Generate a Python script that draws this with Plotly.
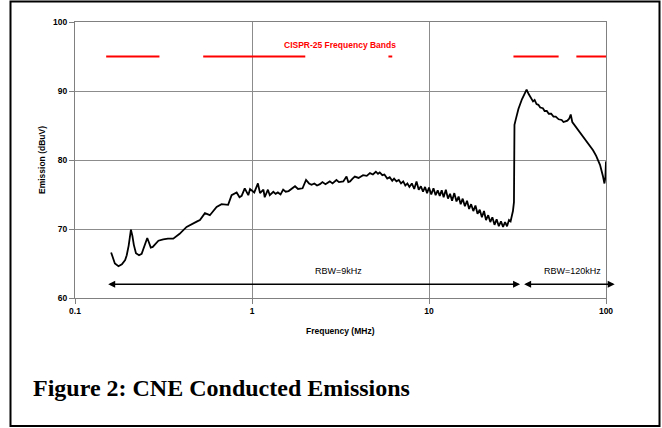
import math
import plotly.graph_objects as go

# ---- data ----
freq_mhz = [0.160, 0.168, 0.176, 0.184, 0.192, 0.196, 0.201, 0.207, 0.211, 0.215,
            0.221, 0.230, 0.238, 0.246, 0.251, 0.256, 0.262, 0.268, 0.275, 0.283,
            0.296, 0.315, 0.335, 0.359, 0.39, 0.427, 0.46, 0.49, 0.508, 0.542,
            0.578, 0.605, 0.631, 0.673, 0.733, 0.767, 0.80, 0.819, 0.85, 0.874,
            0.910, 0.953, 0.975, 0.996, 1.03, 1.08, 1.11, 1.16, 1.18, 1.23,
            1.26, 1.32, 1.36, 1.40, 1.45, 1.50, 1.55, 1.61, 1.68, 1.75,
            1.82, 1.93, 2.02, 2.10, 2.17, 2.25, 2.33, 2.42, 2.5, 2.6,
            2.75, 2.85, 3.0, 3.1, 3.28, 3.42, 3.5, 3.58, 3.7, 3.81,
            4.0, 4.24, 4.45, 4.64, 4.82, 5.01, 5.15, 5.27, 5.45, 5.6,
            5.81, 6.0, 6.2, 6.35, 6.55, 6.75, 6.95, 7.15, 7.35, 7.55,
            7.75, 8.0, 8.25, 8.5, 8.75, 9.0, 9.25, 9.5, 9.75, 10.0,
            10.3, 10.6, 10.9, 11.2, 11.5, 11.8, 12.1, 12.45, 12.8, 13.15,
            13.5, 13.9, 14.3, 14.7, 15.1, 15.5, 15.95, 16.4, 16.85, 17.3,
            17.8, 18.3, 18.8, 19.35, 19.9, 20.45, 21.0, 21.6, 22.2, 22.8,
            23.45, 24.1, 24.8, 25.5, 26.2, 26.9, 27.6, 28.3, 28.9, 29.4,
            29.8, 30.2, 30.25, 30.4,
            31.0, 32.0, 33.5, 34.8, 35.6, 36.5, 37.5, 38.7, 39.5, 40.5,
            41.5, 42.5, 44.0, 45.0, 46.3, 47.5, 49.0, 50.5, 52.0, 54.0,
            56.2, 57.5, 59.0, 60.5, 62.0, 63.2, 64.5, 67.0, 69.0, 71.3,
            75.0, 78.0, 80.0, 84.5, 88.0, 92.5, 96.2, 98.0, 99.2, 100.0]
emission_dbuv = [66.6, 65.0, 64.6, 64.9, 65.5, 66.2, 67.6, 69.9, 69.0, 67.7,
                 66.5, 66.2, 66.4, 67.4, 68.2, 68.7, 68.0, 67.3, 67.4, 67.7,
                 68.3, 68.5, 68.6, 68.6, 69.3, 70.3, 70.8, 71.1, 71.3, 72.3,
                 72.0, 72.6, 73.2, 73.6, 73.5, 74.9, 75.2, 75.3, 74.6, 74.8,
                 75.9, 74.9, 75.8, 75.6, 75.3, 76.6, 75.2, 75.7, 74.6, 75.7,
                 74.9, 75.4, 75.1, 75.3, 75.0, 75.7, 75.4, 75.5, 75.9, 76.2,
                 75.8, 75.9, 77.1, 76.6, 76.4, 76.6, 76.3, 76.5, 76.8, 76.5,
                 76.9, 76.6, 77.1, 76.8, 76.9, 77.6, 76.8, 76.9, 77.3, 77.6,
                 77.4, 77.8, 77.7, 78.1, 77.9, 78.3, 78.0, 78.2, 77.8, 77.9,
                 77.3, 77.5, 77.0, 77.3, 76.9, 77.1, 76.6, 76.9, 76.3, 76.6,
                 76.1, 76.6, 75.8, 76.9, 75.7, 76.2, 75.4, 76.1, 75.2, 76.0,
                 75.0, 75.9, 74.9, 75.6, 74.8, 75.6, 74.6, 75.7, 74.4, 75.1,
                 74.1, 75.2, 74.0, 74.7, 73.6, 74.4, 73.3, 74.1, 72.9, 73.6,
                 72.6, 73.4, 72.2, 72.8, 71.7, 72.6, 71.3, 72.0, 71.0, 71.7,
                 70.6, 71.4, 70.4, 71.1, 70.3, 71.0, 70.4, 71.3, 71.1, 72.0,
                 72.6, 73.9, 81.9, 85.1,
                 86.0, 87.4, 88.8, 89.7, 90.2, 89.6, 89.1, 88.5, 88.7, 88.1,
                 88.0, 87.6, 87.5, 87.1, 87.1, 86.7, 86.7, 86.3, 86.3, 85.9,
                 85.8, 85.5, 85.6, 85.7, 86.0, 86.6, 85.5, 84.9, 84.6, 84.1,
                 83.2, 82.6, 82.2, 81.4, 80.6, 79.3, 77.6, 76.6, 77.5, 79.8]

band_start_mhz = [0.15, 0.53, 5.9, 30.0, 68.0]
band_end_mhz = [0.30, 2.0, 6.2, 54.0, 108.0]
band_level = 95

rbw_ranges = [(0.151, 32.7), (33.8, 112.0)]
rbw_labels = ["RBW=9kHz", "RBW=120kHz"]
rbw_label_x = [3.08, 64.3]
rbw_level = 62
rbw_label_level = 63.9

x_tickvals = [0.1, 1, 10, 100]
x_ticktext = ["0.1", "1", "10", "100"]
y_tickvals = [60, 70, 80, 90, 100]

# ---- figure ----
band_x, band_y = [], []
for s, e in zip(band_start_mhz, band_end_mhz):
    band_x += [s, e, None]
    band_y += [band_level, band_level, None]

fig = go.Figure()
fig.add_trace(go.Scatter(x=band_x, y=band_y, mode="lines",
                         line=dict(color="#ff0000", width=2), hoverinfo="skip"))
fig.add_trace(go.Scatter(x=freq_mhz, y=emission_dbuv, mode="lines",
                         line=dict(color="black", width=1.8)))

FONT = "Arial, Liberation Sans, sans-serif"
L, R, T, B = 75, 56, 22, 130
W, H = 662, 428
PW, PH = W - L - R, H - T - B

def px(xp):
    return (xp - L) / PW

def py(yp):
    return (H - B - yp) / PH

annotations = []
for (a, b) in rbw_ranges:
    annotations.append(dict(x=math.log10(b), y=rbw_level, ax=math.log10(a), ay=rbw_level,
                            xref="x", yref="y", axref="x", ayref="y", text="",
                            showarrow=True, arrowhead=2, startarrowhead=2,
                            arrowside="end+start", arrowsize=1, startarrowsize=1,
                            arrowwidth=1.4, arrowcolor="black", standoff=0, startstandoff=0))
for lab, lx in zip(rbw_labels, rbw_label_x):
    annotations.append(dict(x=math.log10(lx), y=rbw_label_level, xref="x", yref="y",
                            text=lab, showarrow=False,
                            font=dict(family=FONT, size=9, color="black")))
annotations.append(dict(x=math.log10(3.14), y=96.6, xref="x", yref="y",
                        text="CISPR-25 Frequency Bands", showarrow=False,
                        font=dict(family=FONT, size=8.5, color="#ff0000", weight="bold")))
annotations.append(dict(x=0.5, y=py(331), xref="paper", yref="paper",
                        text="Frequency (MHz)", showarrow=False, yanchor="middle",
                        font=dict(family=FONT, size=8.5, color="black", weight="bold")))
annotations.append(dict(x=px(42), y=0.5, xref="paper", yref="paper",
                        text="Emission (dBuV)", showarrow=False, textangle=-90,
                        xanchor="center", yanchor="middle",
                        font=dict(family=FONT, size=8.5, color="black", weight="bold")))
annotations.append(dict(x=px(31), y=py(388), xref="paper", yref="paper",
                        text="Figure 2: CNE Conducted Emissions", showarrow=False,
                        xanchor="left", yanchor="middle",
                        font=dict(family="Liberation Serif, Times New Roman, serif",
                                  size=24, color="black", weight="bold")))

fig.update_layout(
    width=W, height=H, autosize=False,
    margin=dict(l=L, r=R, t=T, b=B),
    paper_bgcolor="white", plot_bgcolor="white",
    showlegend=False,
    annotations=annotations,
    shapes=[dict(type="rect", xref="paper", yref="paper",
                 x0=px(10.5), x1=px(659.5), y0=py(426), y1=py(1.5),
                 line=dict(color="black", width=2))],
    xaxis=dict(type="log", range=[-1, 2], tickvals=x_tickvals, ticktext=x_ticktext,
               showgrid=True, gridcolor="#8c8c8c", gridwidth=1,
               showline=True, linecolor="#808080", linewidth=1, mirror=True,
               ticks="outside", ticklen=5, tickcolor="#808080", zeroline=False,
               tickfont=dict(family=FONT, size=8.5, color="black", weight="bold")),
    yaxis=dict(range=[60, 100], tickvals=y_tickvals,
               showgrid=True, gridcolor="#8c8c8c", gridwidth=1,
               showline=True, linecolor="#808080", linewidth=1, mirror=True,
               ticks="outside", ticklen=5, tickcolor="#808080", zeroline=False,
               tickfont=dict(family=FONT, size=8.5, color="black", weight="bold")),
)

fig.write_html("out.html")
